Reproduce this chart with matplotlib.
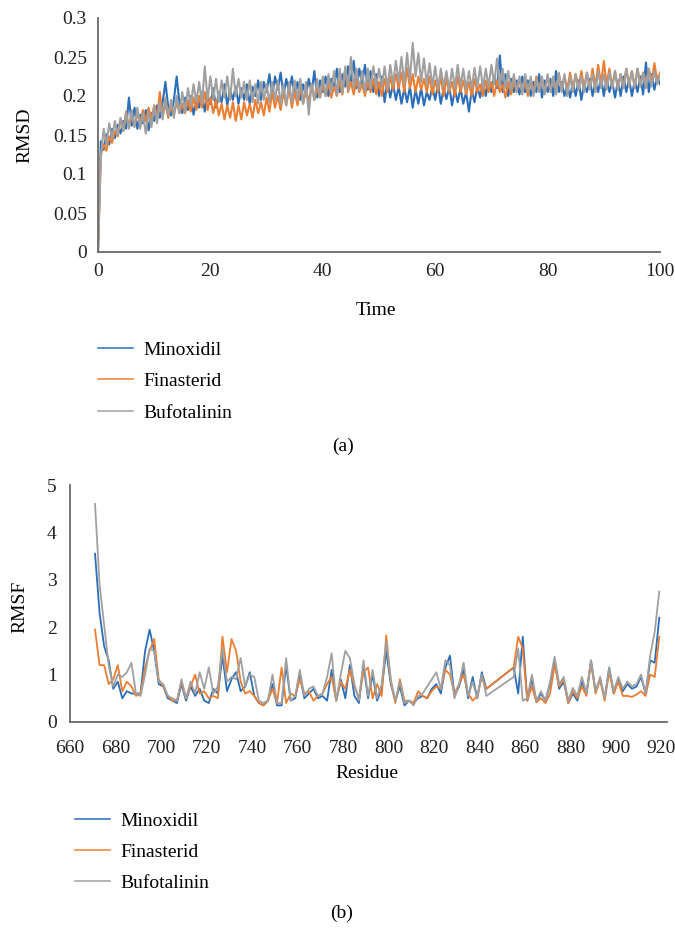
import numpy as np
import matplotlib
matplotlib.use("Agg")
import matplotlib.pyplot as plt

plt.rcParams['font.family'] = ['Liberation Serif', 'DejaVu Serif']
plt.rcParams['font.size'] = 14

# -------------------------------
# DATA (a) RMSD vs time, one value every 0.5 time units
# -------------------------------
time = np.arange(201) * 0.5

rmsd_minoxidil = [
    0, 0.142, 0.131, 0.151, 0.138, 0.158, 0.146, 0.163, 0.152, 0.168,
    0.158, 0.198, 0.162, 0.185, 0.158, 0.176, 0.165, 0.182, 0.156, 0.178,
    0.168, 0.188, 0.172, 0.192, 0.218, 0.185, 0.175, 0.195, 0.225, 0.19,
    0.178, 0.198, 0.182, 0.2, 0.176, 0.195, 0.185, 0.205, 0.18, 0.2,
    0.19, 0.21, 0.185, 0.205, 0.192, 0.215, 0.188, 0.208, 0.195, 0.212,
    0.19, 0.21, 0.195, 0.215, 0.19, 0.212, 0.2, 0.22, 0.195, 0.218,
    0.205, 0.228, 0.2, 0.225, 0.208, 0.23, 0.2, 0.222, 0.205, 0.225,
    0.2, 0.218, 0.195, 0.215, 0.2, 0.222, 0.205, 0.232, 0.198, 0.22,
    0.205, 0.225, 0.2, 0.222, 0.21, 0.235, 0.205, 0.228, 0.212, 0.238,
    0.215, 0.245, 0.21, 0.235, 0.215, 0.24, 0.208, 0.232, 0.205, 0.228,
    0.2, 0.225, 0.192, 0.22, 0.198, 0.215, 0.195, 0.212, 0.19, 0.21,
    0.192, 0.212, 0.185, 0.208, 0.19, 0.21, 0.188, 0.205, 0.195, 0.212,
    0.195, 0.215, 0.19, 0.21, 0.196, 0.212, 0.188, 0.208, 0.192, 0.21,
    0.19, 0.205, 0.18, 0.208, 0.192, 0.212, 0.198, 0.218, 0.2, 0.22,
    0.205, 0.225, 0.21, 0.252, 0.205, 0.228, 0.2, 0.222, 0.205, 0.22,
    0.202, 0.225, 0.205, 0.22, 0.2, 0.218, 0.205, 0.228, 0.198, 0.22,
    0.205, 0.222, 0.2, 0.232, 0.205, 0.218, 0.2, 0.215, 0.198, 0.218,
    0.2, 0.22, 0.195, 0.215, 0.205, 0.222, 0.2, 0.218, 0.205, 0.225,
    0.2, 0.222, 0.205, 0.218, 0.198, 0.22, 0.2, 0.225, 0.205, 0.222,
    0.2, 0.22, 0.205, 0.225, 0.202, 0.243, 0.205, 0.228, 0.208, 0.225,
    0.215,
]

rmsd_finasterid = [
    0, 0.125, 0.138, 0.13, 0.148, 0.14, 0.155, 0.148, 0.17, 0.155,
    0.18, 0.16, 0.175, 0.162, 0.178, 0.165, 0.182, 0.168, 0.185, 0.17,
    0.188, 0.172, 0.205, 0.175, 0.19, 0.172, 0.188, 0.176, 0.192, 0.178,
    0.19, 0.178, 0.195, 0.18, 0.198, 0.182, 0.2, 0.185, 0.205, 0.182,
    0.198, 0.178, 0.195, 0.175, 0.19, 0.17, 0.188, 0.172, 0.192, 0.168,
    0.188, 0.17, 0.192, 0.175, 0.19, 0.172, 0.195, 0.178, 0.192, 0.175,
    0.198, 0.18, 0.205, 0.185, 0.2, 0.182, 0.205, 0.188, 0.21, 0.185,
    0.205, 0.188, 0.212, 0.19, 0.208, 0.192, 0.215, 0.195, 0.21, 0.198,
    0.215, 0.2, 0.218, 0.198, 0.212, 0.2, 0.22, 0.202, 0.235, 0.205,
    0.218, 0.202, 0.22, 0.205, 0.215, 0.2, 0.218, 0.205, 0.222, 0.202,
    0.218, 0.2, 0.222, 0.205, 0.225, 0.208, 0.228, 0.21, 0.23, 0.205,
    0.236, 0.21, 0.228, 0.205, 0.225, 0.208, 0.222, 0.205, 0.225, 0.202,
    0.22, 0.205, 0.225, 0.2, 0.222, 0.205, 0.218, 0.2, 0.225, 0.205,
    0.22, 0.202, 0.218, 0.2, 0.222, 0.205, 0.215, 0.2, 0.22, 0.205,
    0.218, 0.2, 0.22, 0.205, 0.215, 0.198, 0.218, 0.202, 0.22, 0.205,
    0.222, 0.205, 0.218, 0.2, 0.22, 0.205, 0.225, 0.208, 0.222, 0.205,
    0.225, 0.208, 0.222, 0.205, 0.228, 0.21, 0.225, 0.208, 0.23, 0.21,
    0.228, 0.21, 0.232, 0.212, 0.23, 0.21, 0.235, 0.212, 0.24, 0.215,
    0.245, 0.215, 0.235, 0.212, 0.232, 0.21, 0.228, 0.212, 0.235, 0.215,
    0.232, 0.212, 0.235, 0.215, 0.23, 0.212, 0.235, 0.218, 0.242, 0.22,
    0.23,
]

rmsd_bufotalinin = [
    0, 0.12, 0.158, 0.138, 0.165, 0.145, 0.168, 0.15, 0.172, 0.155,
    0.178, 0.158, 0.182, 0.16, 0.185, 0.158, 0.178, 0.152, 0.18, 0.16,
    0.188, 0.165, 0.192, 0.17, 0.198, 0.175, 0.195, 0.172, 0.2, 0.178,
    0.205, 0.18, 0.21, 0.188, 0.215, 0.192, 0.218, 0.19, 0.238, 0.195,
    0.225, 0.195, 0.222, 0.192, 0.22, 0.198, 0.225, 0.195, 0.235, 0.2,
    0.222, 0.198, 0.218, 0.195, 0.22, 0.192, 0.215, 0.19, 0.218, 0.195,
    0.215, 0.192, 0.218, 0.195, 0.22, 0.19, 0.215, 0.188, 0.218, 0.192,
    0.22, 0.195, 0.222, 0.19, 0.218, 0.176, 0.215, 0.195, 0.222, 0.198,
    0.225, 0.2, 0.228, 0.205, 0.232, 0.202, 0.235, 0.205, 0.238, 0.208,
    0.25, 0.21, 0.235, 0.208, 0.232, 0.205, 0.235, 0.21, 0.238, 0.212,
    0.235, 0.212, 0.238, 0.21, 0.24, 0.215, 0.245, 0.218, 0.25, 0.215,
    0.255, 0.22, 0.268, 0.225, 0.255, 0.218, 0.248, 0.215, 0.242, 0.212,
    0.238, 0.21, 0.235, 0.212, 0.232, 0.208, 0.235, 0.21, 0.24, 0.212,
    0.235, 0.208, 0.232, 0.21, 0.236, 0.212, 0.238, 0.21, 0.235, 0.212,
    0.24, 0.215, 0.248, 0.212, 0.235, 0.21, 0.232, 0.208, 0.228, 0.205,
    0.225, 0.202, 0.228, 0.205, 0.225, 0.2, 0.222, 0.205, 0.225, 0.202,
    0.228, 0.205, 0.225, 0.202, 0.23, 0.205, 0.228, 0.2, 0.225, 0.205,
    0.228, 0.208, 0.225, 0.205, 0.23, 0.208, 0.228, 0.205, 0.232, 0.21,
    0.228, 0.208, 0.23, 0.21, 0.232, 0.208, 0.228, 0.21, 0.235, 0.212,
    0.232, 0.21, 0.235, 0.212, 0.23, 0.21, 0.235, 0.212, 0.232, 0.215,
    0.228,
]

# -------------------------------
# DATA (b) RMSF per residue (every second residue, gap 845-853)
# -------------------------------
residue = list(range(671, 845, 2)) + list(range(855, 921, 2))

rmsf_minoxidil = [
    3.55, 2.3, 1.6, 1.3, 0.7, 0.85, 0.5, 0.65, 0.6, 0.6,
    0.6, 1.5, 1.95, 1.5, 0.8, 0.75, 0.5, 0.45, 0.4, 0.8,
    0.45, 0.75, 0.55, 0.7, 0.45, 0.4, 0.7, 0.6, 1.4, 0.65,
    0.9, 1.05, 0.65, 0.75, 1.05, 0.55, 0.4, 0.35, 0.45, 0.8,
    0.35, 0.35, 1.2, 0.45, 0.5, 1.0, 0.5, 0.6, 0.7, 0.5,
    0.55, 0.45, 1.1, 0.45, 0.9, 0.5, 1.2, 0.55, 0.4, 1.2,
    0.5, 1.0, 0.45, 0.7, 1.5, 0.8, 0.45, 0.75, 0.35, 0.45,
    0.4, 0.5, 0.55, 0.5, 0.7, 0.8, 0.6, 1.15, 1.4, 0.55,
    0.75, 1.1, 0.5, 0.95, 0.5, 1.05, 0.7,
    1.15, 0.6, 1.8, 0.45, 0.9, 0.42, 0.6, 0.45, 0.8, 1.3,
    0.7, 0.85, 0.4, 0.6, 0.45, 0.85, 0.6, 1.3, 0.65, 0.9,
    0.5, 1.15, 0.6, 0.9, 0.65, 0.8, 0.7, 0.75, 0.95, 0.6,
    1.3, 1.25, 2.2,
]

rmsf_finasterid = [
    1.95, 1.2, 1.2, 0.8, 0.9, 1.2, 0.65, 0.85, 0.75, 0.55,
    0.6, 1.15, 1.5, 1.75, 0.9, 0.75, 0.55, 0.45, 0.45, 0.85,
    0.5, 0.75, 1.0, 0.6, 0.65, 0.5, 0.55, 0.5, 1.8, 1.05,
    1.75, 1.5, 0.85, 0.6, 0.65, 0.55, 0.4, 0.35, 0.45, 0.7,
    0.4, 1.15, 0.4, 0.6, 0.55, 0.9, 0.6, 0.65, 0.45, 0.55,
    0.6, 0.8, 0.95, 0.45, 0.85, 0.7, 1.1, 0.75, 0.5, 1.05,
    1.15, 0.5, 0.8, 0.55, 1.83, 0.85, 0.4, 0.9, 0.45, 0.45,
    0.4, 0.65, 0.55, 0.5, 0.65, 0.75, 0.7, 1.1, 1.0, 0.6,
    0.8, 1.0, 0.6, 0.45, 0.55, 0.95, 0.7,
    1.15, 1.8, 1.55, 0.45, 0.75, 0.42, 0.5, 0.4, 0.6, 1.2,
    0.75, 0.9, 0.4, 0.65, 0.5, 0.75, 0.55, 1.25, 0.6, 0.9,
    0.45, 1.05, 0.6, 0.85, 0.55, 0.55, 0.53, 0.58, 0.65, 0.55,
    1.0, 0.95, 1.8,
]

rmsf_bufotalinin = [
    4.6, 2.9, 2.05, 1.2, 0.75, 1.0, 0.95, 1.05, 1.25, 0.6,
    0.55, 1.0, 1.55, 1.5, 0.85, 0.8, 0.55, 0.5, 0.45, 0.9,
    0.5, 0.85, 0.6, 1.05, 0.7, 1.15, 0.6, 0.75, 1.55, 0.85,
    0.95, 0.9, 1.35, 0.75, 1.0, 0.95, 0.45, 0.4, 0.45, 1.0,
    0.4, 0.4, 1.35, 0.45, 0.55, 1.1, 0.55, 0.7, 0.75, 0.55,
    0.6, 0.95, 1.45, 0.45, 1.0, 1.5, 1.35, 0.8, 0.45, 1.3,
    0.55, 1.1, 0.5, 0.8, 1.7, 0.9, 0.45, 0.85, 0.4, 0.45,
    0.35, 0.55, 0.6, 0.75, 0.9, 1.05, 0.7, 1.3, 1.2, 0.5,
    0.8, 1.25, 0.55, 0.85, 0.5, 1.0, 0.55,
    0.95, 1.55, 0.45, 0.5, 1.0, 0.45, 0.65, 0.45, 0.85, 1.38,
    0.8, 0.95, 0.45, 0.72, 0.55, 0.95, 0.6, 1.3, 0.65, 0.95,
    0.5, 1.15, 0.65, 0.95, 0.7, 0.85, 0.75, 0.8, 1.0, 0.6,
    1.4, 1.9, 2.75,
]

labels = ["Minoxidil", "Finasterid", "Bufotalinin"]
colors = ["#2a6ebb", "#ed7d31", "#a0a0a0"]
spine_color = "#6a6a6a"

fig = plt.figure(figsize=(6.75, 9.32), dpi=100)


def style_axes(ax):
    for side in ["top", "right"]:
        ax.spines[side].set_visible(False)
    for side in ["left", "bottom"]:
        ax.spines[side].set_color(spine_color)
        ax.spines[side].set_linewidth(1.3)
    ax.tick_params(length=0, colors="#222222")


# -------------------------------
# (a) RMSD
# -------------------------------
ax1 = fig.add_axes([98 / 675, 1 - 252 / 932, 562 / 675, 234 / 932])
for y, lab, c in zip([rmsd_minoxidil, rmsd_finasterid, rmsd_bufotalinin], labels, colors):
    ax1.plot(time, y, color=c, lw=1.5, label=lab)
ax1.set_xlim(0, 100)
ax1.set_ylim(0, 0.3)
ax1.set_xticks(range(0, 101, 20))
yt = [0, 0.05, 0.1, 0.15, 0.2, 0.25, 0.3]
ax1.set_yticks(yt)
ax1.set_yticklabels([f"{v:g}" for v in yt])
style_axes(ax1)
ax1.tick_params(axis="y", pad=8)
ax1.tick_params(axis="x", pad=8)
ax1.set_xlabel("Time", va="center")
ax1.xaxis.set_label_coords(0.4947, -0.248)
ax1.set_ylabel("RMSD", va="center")
ax1.yaxis.set_label_coords(-0.13, 0.5)
leg1 = ax1.legend(loc="upper left", bbox_to_anchor=(98 / 675, 0.6341),
                  bbox_transform=fig.transFigure, frameon=False,
                  handlelength=1.8, handletextpad=0.51, labelspacing=0.72,
                  borderpad=0, borderaxespad=0)
for h in leg1.get_lines():
    h.set_linewidth(1.1)
fig.text(343 / 675, 1 - 446 / 932, "(a)", ha="center", va="center")

# -------------------------------
# (b) RMSF
# -------------------------------
ax2 = fig.add_axes([70 / 675, 1 - 722 / 932, 597 / 675, 237 / 932])
for y, lab, c in zip([rmsf_minoxidil, rmsf_finasterid, rmsf_bufotalinin], labels, colors):
    ax2.plot(residue, y, color=c, lw=1.3, label=lab)
ax2.set_xlim(660, 922.4)
ax2.set_ylim(0, 5)
ax2.set_xticks(range(660, 921, 20))
ax2.set_yticks(range(0, 6))
style_axes(ax2)
ax2.tick_params(axis="y", pad=9.5)
ax2.tick_params(axis="x", pad=13)
ax2.set_xlabel("Residue", va="center")
ax2.xaxis.set_label_coords(0.4975, -0.2194)
ax2.set_ylabel("RMSF", va="center")
ax2.yaxis.set_label_coords(-0.0838, 0.485)
leg2 = ax2.legend(loc="upper left", bbox_to_anchor=(75 / 675, 0.1288),
                  bbox_transform=fig.transFigure, frameon=False,
                  handlelength=1.8, handletextpad=0.51, labelspacing=0.7,
                  borderpad=0, borderaxespad=0)
for h in leg2.get_lines():
    h.set_linewidth(1.1)
fig.text(342 / 675, 1 - 913 / 932, "(b)", ha="center", va="center")

fig.savefig("out.png", dpi=100)
